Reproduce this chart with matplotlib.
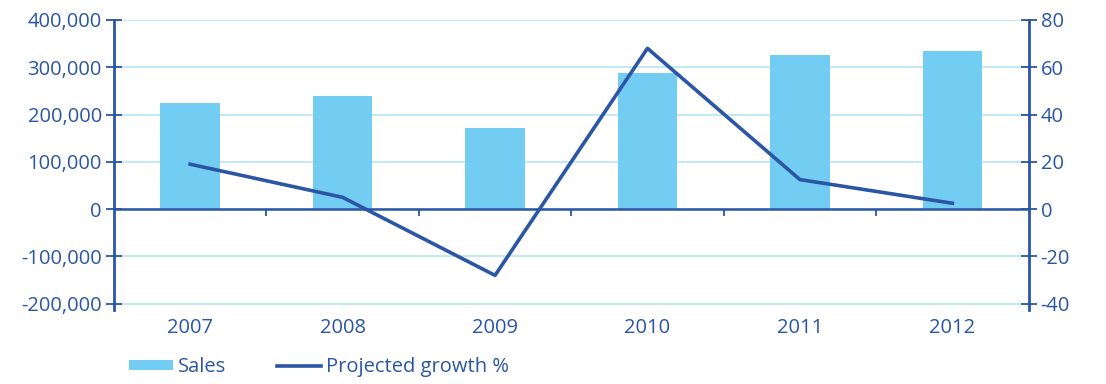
import numpy as np
import matplotlib.pyplot as plt
from matplotlib.ticker import FuncFormatter

years = ["2007", "2008", "2009", "2010", "2011", "2012"]
sales = [224000, 239000, 171000, 288000, 325000, 334000]
growth = [19, 5, -28, 68, 12.5, 2.5]

dark = '#2A56A5'
light = '#73CDF2'
grid = '#BDE6F8'

plt.rcParams['font.family'] = ['Open Sans', 'DejaVu Sans']
plt.rcParams['axes.unicode_minus'] = False
fs = 14.5

fig = plt.figure(figsize=(11.06, 3.84), dpi=100)
ax = fig.add_axes([0.103, 0.193, 0.827, 0.755])
x = np.arange(len(years))

bars = ax.bar(x, sales, 0.39, color=light, label="Sales", zorder=2)
ax.axhline(0, color=dark, linewidth=1.8, zorder=3)
ax.set_xlim(-0.5, 5.5)
ax.set_ylim(-213000, 400000)
ax.set_yticks(np.arange(-200000, 400001, 100000))
ax.yaxis.set_major_formatter(FuncFormatter(lambda v, p: f"{int(v):,}"))
ax.grid(axis='y', color=grid, linewidth=1.3, zorder=0)
ax.set_axisbelow(True)
ax.set_xticks(x)
ax.set_xticklabels(years)
ax.tick_params(axis='x', length=0, pad=6, colors=dark, labelsize=fs)
ax.tick_params(axis='y', direction='inout', length=11.5, width=1.3, colors=dark, pad=3, labelsize=fs)
for s in ['top', 'bottom', 'right']:
    ax.spines[s].set_visible(False)
ax.spines['left'].set_color(dark)
ax.spines['left'].set_linewidth(2)

# boundary ticks hanging from the zero line
zero = ax.secondary_xaxis(213000 / 613000)
zero.set_xticks(x[:-1] + 0.5)
zero.set_xticklabels([])
zero.tick_params(axis='x', direction='out', length=5, width=1.3, colors=dark)
zero.spines['bottom'].set_visible(False)

ax2 = ax.twinx()
line, = ax2.plot(x, growth, color=dark, linewidth=2.6, label="Projected growth %")
ax2.set_ylim(-42.6, 80)
ax2.set_yticks(np.arange(-40, 81, 20))
ax2.tick_params(axis='y', direction='inout', length=11.5, width=1.3, colors=dark, pad=3, labelsize=fs)
for s in ['top', 'bottom', 'left']:
    ax2.spines[s].set_visible(False)
ax2.spines['right'].set_color(dark)
ax2.spines['right'].set_linewidth(2)

leg = fig.legend([bars, line], ["Sales", "Projected growth %"], ncol=2, loc='lower left',
                 bbox_to_anchor=(0.1, -0.03), frameon=False, handlelength=2.2,
                 handleheight=0.4, columnspacing=2.5, handletextpad=0.25, fontsize=fs)
for t in leg.get_texts():
    t.set_color(dark)

fig.savefig("out.png", dpi=100)
